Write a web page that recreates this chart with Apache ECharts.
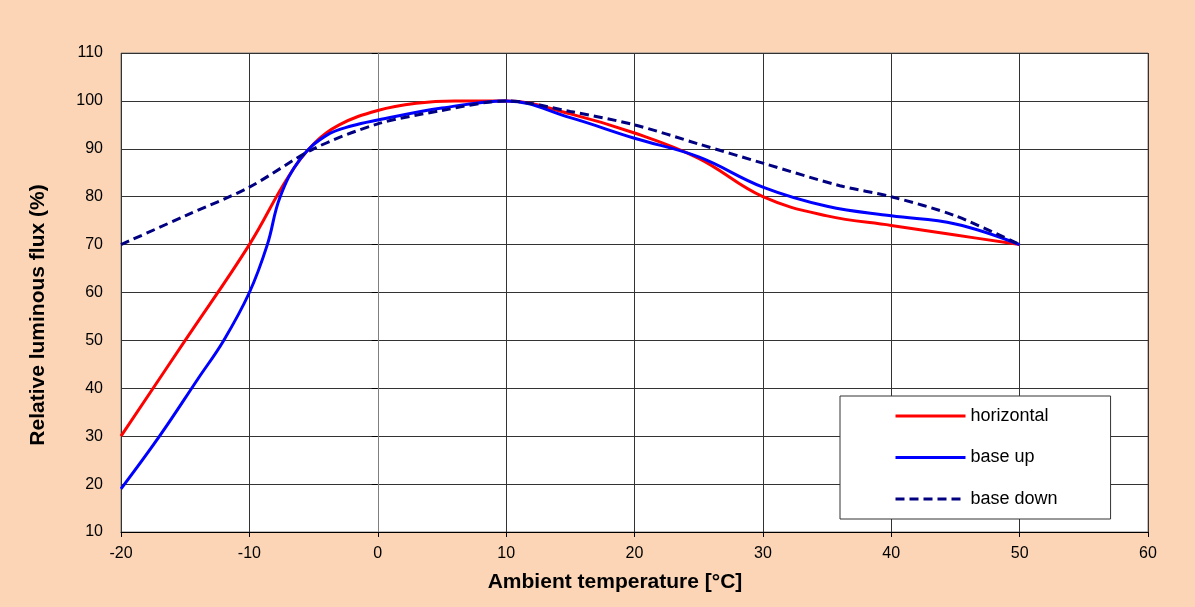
<!DOCTYPE html>
<html>
<head>
<meta charset="utf-8">
<script src="https://cdn.jsdelivr.net/npm/echarts@6/dist/echarts.min.js"></script>
<style>
  html, body { margin: 0; padding: 0; background: #fbd5b5; }
  #chart { width: 1195px; height: 607px; }
</style>
</head>
<body>
<div id="chart"></div>
<script>
// temperature (x) / relative flux (y)
var horizontalX = [-20, -15, -10, -7, -5, -3, 0, 3, 6, 10, 15, 20, 25, 30, 35, 40, 45, 50];
var horizontalY = [30, 50, 70, 84, 91, 95, 98, 99.5, 100, 100, 97.3, 93.3, 88, 80, 76, 74, 72, 70];

var baseUpX = [-20, -17, -14, -12, -10, -8.6, -7.6, -6, -4, -2, 0, 5, 10, 15, 20, 25, 30, 35, 40, 45, 50];
var baseUpY = [19, 30, 42, 50, 60, 70, 80, 88, 92.8, 94.8, 96, 98.5, 100, 96.5, 92.2, 88.3, 82, 78, 76, 74.3, 70];

var baseDownX = [-20, -15, -10, -5, 0, 5, 10, 15, 20, 25, 30, 36, 40, 45, 50];
var baseDownY = [70, 76, 82, 90, 95.2, 98, 100, 97.8, 95, 91, 87, 82.3, 80, 76, 70];

var seriesNames = ['horizontal', 'base up', 'base down'];

function pairs(xs, ys) {
    var out = [];
    for (var i = 0; i < xs.length; i++) {
        out.push([xs[i], ys[i]]);
    }
    return out;
}

var myChart = echarts.init(document.getElementById('chart'));

var font = 'Liberation Sans, Arial, sans-serif';

var option = {
    backgroundColor: '#fbd5b5',
    animation: false,
    grid: {
        left: 121,
        top: 53,
        right: 47,
        bottom: 75,
        show: true,
        backgroundColor: '#ffffff',
        borderColor: '#808080',
        borderWidth: 1
    },
    xAxis: {
        type: 'value',
        min: -20,
        max: 60,
        interval: 10,
        axisLine: { show: true, onZero: false, lineStyle: { color: '#000', width: 1 } },
        axisTick: { show: true, length: 5, lineStyle: { color: '#000' } },
        axisLabel: { color: '#000', fontSize: 16, fontFamily: font, margin: 14 },
        splitLine: { show: true, lineStyle: { color: '#333', width: 1 } }
    },
    yAxis: {
        type: 'value',
        min: 10,
        max: 110,
        interval: 10,
        axisLine: { show: true, lineStyle: { color: '#808080', width: 1 } },
        axisTick: { show: true, length: 6, lineStyle: { color: '#000' } },
        axisLabel: { color: '#000', fontSize: 16, fontFamily: font, margin: 18 },
        splitLine: { show: true, lineStyle: { color: '#333', width: 1 } }
    },
    legend: {
        orient: 'vertical',
        left: 840,
        top: 396,
        data: seriesNames,
        itemWidth: 70,
        itemHeight: 14,
        itemGap: 23.5,
        padding: [11, 53, 11, 54],
        backgroundColor: '#ffffff',
        borderColor: '#333',
        borderWidth: 1,
        borderRadius: 0,
        selectedMode: false,
        itemStyle: { opacity: 0 },
        lineStyle: { width: 3 },
        textStyle: { color: '#000', fontSize: 18, fontFamily: font }
    },
    graphic: [
        {
            type: 'text',
            x: 615,
            y: 582,
            style: {
                text: 'Ambient temperature [°C]',
                font: 'bold 21px ' + font,
                fill: '#000',
                textAlign: 'center',
                textVerticalAlign: 'middle'
            }
        },
        {
            type: 'text',
            x: 38,
            y: 315,
            rotation: Math.PI / 2,
            style: {
                text: 'Relative luminous flux (%)',
                font: 'bold 21px ' + font,
                fill: '#000',
                textAlign: 'center',
                textVerticalAlign: 'middle'
            }
        }
    ],
    series: [
        {
            name: seriesNames[0],
            type: 'line',
            data: pairs(horizontalX, horizontalY),
            smooth: 0.4,
            symbol: 'none',
            lineStyle: { color: '#ff0000', width: 3 },
            itemStyle: { color: '#ff0000' },
            z: 3
        },
        {
            name: seriesNames[1],
            type: 'line',
            data: pairs(baseUpX, baseUpY),
            smooth: 0.4,
            symbol: 'none',
            lineStyle: { color: '#0000ff', width: 3 },
            itemStyle: { color: '#0000ff' },
            z: 4
        },
        {
            name: seriesNames[2],
            type: 'line',
            data: pairs(baseDownX, baseDownY),
            smooth: 0.3,
            symbol: 'none',
            lineStyle: { color: '#000080', width: 3, type: [9, 5] },
            itemStyle: { color: '#000080' },
            z: 5
        }
    ]
};

myChart.setOption(option);
</script>
</body>
</html>
